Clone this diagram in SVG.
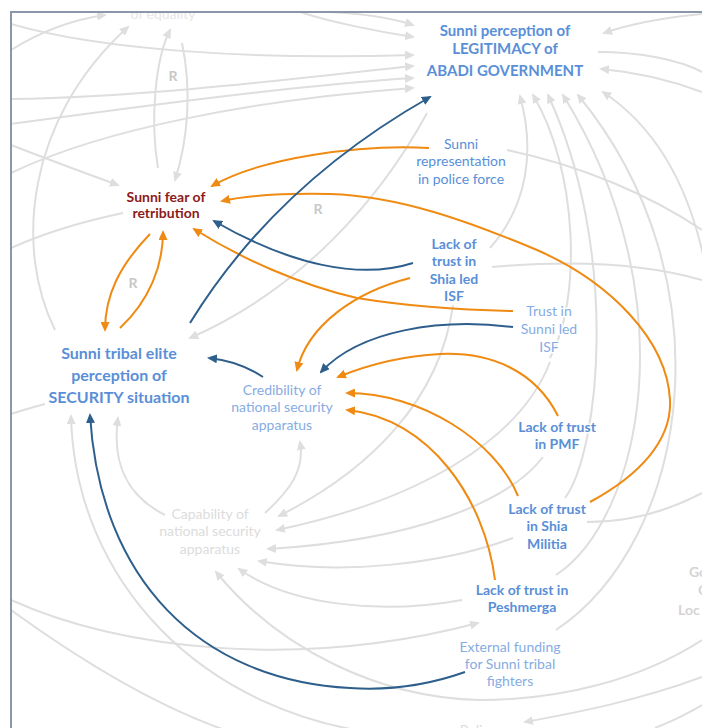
<svg xmlns="http://www.w3.org/2000/svg" width="702" height="728" viewBox="0 0 702 728">
<defs>
<style>
.g{fill:none;stroke:#dedede;stroke-width:2}
.o{fill:none;stroke:#ef8a12;stroke-width:2}
.b{fill:none;stroke:#2e5f8c;stroke-width:2}
.ga{marker-end:url(#ag)}
.oa{marker-end:url(#ao)}
.ba{marker-end:url(#ab)}
text{font-family:Lato,"Liberation Sans",sans-serif;font-size:14px;text-anchor:middle;paint-order:stroke;stroke:#fff;stroke-width:3px;stroke-linejoin:round}
.bl{fill:#5a8fd8;font-weight:bold}
.rg{fill:#5a8fd8}
.lt{fill:#86ace3}
.gr{fill:#dcdcdc}
.R{fill:#c8c8c8;font-weight:bold}
</style>
<marker id="ao" viewBox="0 0 10 9" refX="8" refY="4.5" markerWidth="10" markerHeight="9" markerUnits="userSpaceOnUse" orient="auto"><path d="M0,0 L10,4.5 L0,9 z" fill="#ef8a12"/></marker>
<marker id="ab" viewBox="0 0 10 9" refX="8" refY="4.5" markerWidth="10" markerHeight="9" markerUnits="userSpaceOnUse" orient="auto"><path d="M0,0 L10,4.5 L0,9 z" fill="#2e5f8c"/></marker>
<marker id="ag" viewBox="0 0 10 9" refX="8" refY="4.5" markerWidth="10" markerHeight="9" markerUnits="userSpaceOnUse" orient="auto"><path d="M0,0 L10,4.5 L0,9 z" fill="#dedede"/></marker>
<clipPath id="clip"><rect x="12" y="13" width="700" height="720"/></clipPath>
</defs>
<rect width="702" height="728" fill="#fff"/>
<g clip-path="url(#clip)">
<g id="connectors">
<path class="g ga" d="M11,50 C40,32 70,20 105,15"/>
<path class="g ga" d="M55,330 C15,250 25,120 128,27"/>
<path class="g ga" d="M158,168 C150,120 155,60 170,30"/>
<path class="g ga" d="M182,43 C192,90 188,140 175,180"/>
<path class="g ga" d="M11,24 C100,50 250,60 413,55"/>
<path class="g ga" d="M330,12 C370,14 395,19 413,25"/>
<path class="g ga" d="M300,12 C330,22 380,32 413,37"/>
<path class="g ga" d="M11,99 C150,97 300,78 413,66"/>
<path class="g ga" d="M11,124 C150,105 300,85 413,78"/>
<path class="g ga" d="M11,173 C100,130 250,100 413,88"/>
<path class="g ga" d="M11,145 C50,160 90,175 118,185"/>
<path class="g" d="M123,213 C80,222 40,235 11,248"/>
<path class="g" d="M45,404 C30,408 20,411 11,414"/>
<path class="g ga" d="M427,113 C380,200 300,290 190,338"/>
<path class="g" d="M507,150 C580,165 650,195 702,230"/>
<path class="g" d="M492,267 C570,260 640,262 702,280"/>
<path class="g ga" d="M490,248 C528,205 535,150 520,96"/>
<path class="g ga" d="M550,358 C582,300 578,170 533,95"/>
<path class="g ga" d="M565,498 C600,450 620,250 548,95"/>
<path class="g ga" d="M556,575 C640,520 690,300 563,95"/>
<path class="g ga" d="M556,630 C690,540 730,280 578,95"/>
<path class="g ga" d="M712,310 C700,200 660,130 603,92"/>
<path class="g ga" d="M702,14 C660,18 630,24 604,33"/>
<path class="g ga" d="M702,92 C670,80 635,72 601,69"/>
<path class="g" d="M598,52 C640,52 680,60 702,72"/>
<path class="g ga" d="M265,513 C290,490 305,470 300,442"/>
<path class="g ga" d="M165,515 C125,495 112,460 118,418"/>
<path class="g ga" d="M390,735 C200,715 75,580 71,416"/>
<path class="g ga" d="M11,600 C120,650 300,670 478,623"/>
<path class="g" d="M11,610 C80,660 160,710 240,735"/>
<path class="g ga" d="M453,305 C440,400 370,470 279,516"/>
<path class="g ga" d="M550,362 C520,440 420,500 277,530"/>
<path class="g ga" d="M543,457 C510,500 420,540 268,549"/>
<path class="g ga" d="M513,538 C440,565 340,575 259,561"/>
<path class="g ga" d="M462,600 C380,615 290,605 239,569"/>
<path class="g ga" d="M702,640 C640,680 560,700 480,700 C380,698 280,650 216,572"/>
<path class="g ga" d="M702,677 C640,700 580,712 525,722"/>
<path class="g" d="M702,705 C685,715 670,722 655,728"/>
<path class="g" d="M587,522 C630,522 670,510 702,493"/>

<path class="o oa" d="M429,148 C360,144 260,158 212,186"/>
<path class="o oa" d="M590,502 C640,475 672,440 670,400 C667,340 610,282 537,250 C470,222 400,196 330,194 C280,193 245,196 222,201"/>
<path class="o oa" d="M513,311 C460,310 400,305 357,298 C300,285 240,258 194,229"/>
<path class="o oa" d="M410,278 C355,292 308,325 297,370"/>
<path class="o oa" d="M558,416 C535,370 490,352 440,354 C400,356 365,366 338,377"/>
<path class="o oa" d="M518,496 C495,440 420,393 347,393"/>
<path class="o oa" d="M495,580 C485,500 430,418 347,410"/>
<path class="o oa" d="M150,234 C120,265 105,295 105,330"/>
<path class="o oa" d="M120,328 C150,300 163,265 163,232"/>

<path class="b ba" d="M190,323 Q275,185 430,97"/>
<path class="b ba" d="M413,263 C360,280 290,265 214,221"/>
<path class="b ba" d="M513,327 C440,318 360,330 321,372"/>
<path class="b ba" d="M263,377 C245,365 228,360 209,358"/>
<path class="b ba" d="M465,672 C420,688 380,690 350,688 C200,680 100,580 90,415"/>
</g>

<g id="node-equality"><text x="163" y="19" fill="#e6e6e6" stroke="none">of equality</text></g>
<g id="node-legitimacy">
<text class="bl" x="505" y="36" style="font-size:15px">Sunni perception of</text>
<text class="bl" x="505" y="54" style="font-size:15px">LEGITIMACY of</text>
<text class="bl" x="505" y="76" style="font-size:15px">ABADI GOVERNMENT</text>
</g>
<g id="node-fear">
<text x="166" y="202" style="fill:#8b1a1a;font-weight:bold">Sunni fear of</text>
<text x="166" y="218" style="fill:#8b1a1a;font-weight:bold">retribution</text>
</g>
<g id="node-security">
<text class="bl" x="119" y="359" style="font-size:16px">Sunni tribal elite</text>
<text class="bl" x="119" y="381" style="font-size:16px">perception of</text>
<text class="bl" x="119" y="403" style="font-size:16px">SECURITY situation</text>
</g>
<g id="node-representation">
<text class="rg" x="461" y="149">Sunni</text>
<text class="rg" x="461" y="166">representation</text>
<text class="rg" x="461" y="184">in police force</text>
</g>
<g id="node-shia-isf">
<text class="bl" x="454" y="249">Lack of</text>
<text class="bl" x="454" y="266">trust in</text>
<text class="bl" x="454" y="284">Shia led</text>
<text class="bl" x="454" y="301">ISF</text>
</g>
<g id="node-sunni-isf">
<text class="lt" x="549" y="316">Trust in</text>
<text class="lt" x="549" y="334">Sunni led</text>
<text class="lt" x="549" y="352">ISF</text>
</g>
<g id="node-credibility">
<text class="lt" x="282" y="395">Credibility of</text>
<text class="lt" x="282" y="412">national security</text>
<text class="lt" x="282" y="430">apparatus</text>
</g>
<g id="node-pmf">
<text class="bl" x="557" y="432">Lack of trust</text>
<text class="bl" x="557" y="449">in PMF</text>
</g>
<g id="node-militia">
<text class="bl" x="547" y="514">Lack of trust</text>
<text class="bl" x="547" y="531">in Shia</text>
<text class="bl" x="547" y="549">Militia</text>
</g>
<g id="node-capability">
<text class="gr" x="210" y="519">Capability of</text>
<text class="gr" x="210" y="536">national security</text>
<text class="gr" x="210" y="554">apparatus</text>
</g>
<g id="node-peshmerga">
<text class="bl" x="522" y="595">Lack of trust in</text>
<text class="bl" x="522" y="612">Peshmerga</text>
</g>
<g id="node-funding">
<text class="lt" x="510" y="652">External funding</text>
<text class="lt" x="510" y="669">for Sunni tribal</text>
<text class="lt" x="510" y="686">fighters</text>
</g>
<g id="node-police"><text class="gr" x="478" y="735">Police</text></g>
<g id="node-right">
<text x="689" y="577" style="text-anchor:start;fill:#d4d4d4;font-weight:bold">Go</text>
<text x="698" y="595" style="text-anchor:start;fill:#d4d4d4;font-weight:bold">C</text>
<text x="678" y="615" style="text-anchor:start;fill:#d4d4d4;font-weight:bold">Loc</text>
</g>
<g id="loop-labels">
<text class="R" x="173" y="81">R</text>
<text class="R" x="318" y="214">R</text>
<text class="R" x="133" y="288">R</text>
</g>
</g>
<rect x="11" y="12" width="702" height="730" fill="none" stroke="#8a97a8" stroke-width="2"/>
</svg>
